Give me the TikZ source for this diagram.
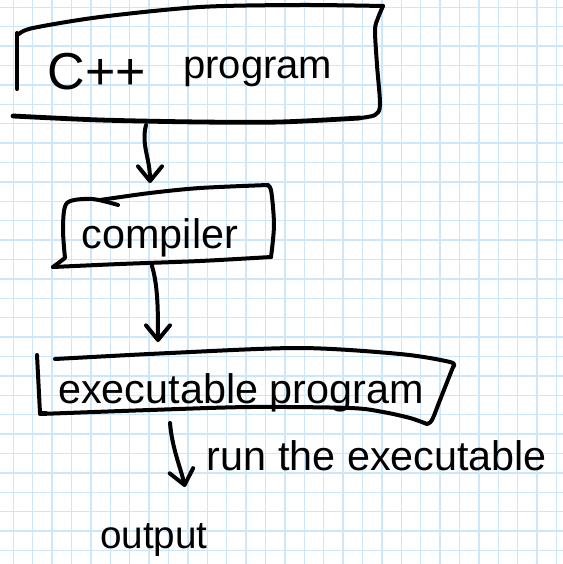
\documentclass[tikz,border=0pt]{standalone}
\usepackage{fontspec}
\setmainfont{Liberation Sans}
\usetikzlibrary{arrows.meta}

\definecolor{gridblue}{RGB}{204,230,250}

\tikzset{
  gridline/.style={draw=gridblue, line width=1.1pt},
  ink/.style={line width=3pt, line cap=round, line join=round},
  arr/.style={ink, -{Straight Barb[length=11pt,width=18pt,round]}},
  hand/.style={anchor=base, inner sep=0pt, font=\fontsize{31}{36}\selectfont},
}

\begin{document}
\begin{tikzpicture}[x=0.75pt, y=-0.75pt]
\useasboundingbox[fill=white] (0,0) rectangle (563,564);
% grid paper
\foreach \i in {0,...,28}
  \draw[gridline] ({13.3+19.4*\i},0) -- ++(0,564);
\foreach \j in {0,...,28}
  \draw[gridline] (0,{7.3+19.4*\j}) -- ++(563,0);

% C++ program box
\draw[ink] (17,89) -- (17,33);
\draw[ink] plot[smooth, tension=0.5] coordinates {(19,34) (33,28) (100,17) (200,7) (300,5) (383,6)};
\draw[ink] plot[smooth, tension=0.5] coordinates {(383,6) (378,18) (375,30) (377,65) (380,105) (375,115) (360,118)};
\draw[ink, line width=3.6pt] plot[smooth, tension=0.5] coordinates {(360,118) (280,122) (200,122) (100,120) (13,116)};
\node[hand] (cpp) at (190,89) {{\fontsize{39}{42}\selectfont C++}\hspace{28pt}\raisebox{8pt}{\fontsize{30}{34}\selectfont program}};

% compiler box
\draw[ink] plot[smooth, tension=0.5] coordinates {(118,205) (92,199) (67,203) (63,228) (65,258)} -- (53,267);
\draw[ink] plot[smooth, tension=0.5] coordinates {(53,267) (120,264) (200,261) (271,257)};
\draw[ink] plot[smooth, tension=0.5] coordinates {(271,257) (274,225) (271,190) (266,185)};
\draw[ink] plot[smooth, tension=0.5] coordinates {(268,185) (200,188) (150,193) (100,200)};
\node[hand] (comp) at (160,248) {compiler};

% executable program box
\draw[ink] (37,355) -- (40,413) -- (46,413);
\draw[ink] plot[smooth, tension=0.5] coordinates {(55,359) (170,353) (300,348) (400,354) (450,362) (453,367)};
\draw[ink] plot[smooth, tension=0.5] coordinates {(453,367) (440,400) (432,420) (427,424)};
\draw[ink] plot[smooth, tension=0.5] coordinates {(40,414) (150,410) (250,407) (350,408) (383,412) (410,418) (427,424)};
\node[hand] (exe) at (241,403) {executable program};

% output
\node[hand, font=\fontsize{29}{33}\selectfont] (out) at (154,548) {output};

% arrows
\coordinate (cpp-out) at (146,125);
\coordinate (comp-in) at (150,183);
\coordinate (comp-out) at (152,266);
\coordinate (exe-in) at (158,342);
\coordinate (exe-out) at (170,423);
\coordinate (out-in) at (185,487);
\draw[arr] (cpp-out) .. controls +(-5,20) and +(0,-25) .. (comp-in);
\draw[arr] (comp-out) .. controls +(6,20) and +(0,-30) .. (exe-in);
\draw[arr] (exe-out) .. controls +(2,25) and +(-4,-18) .. (out-in);
\node[hand] (run) at (377,470) {run the executable};
\end{tikzpicture}
\end{document}
